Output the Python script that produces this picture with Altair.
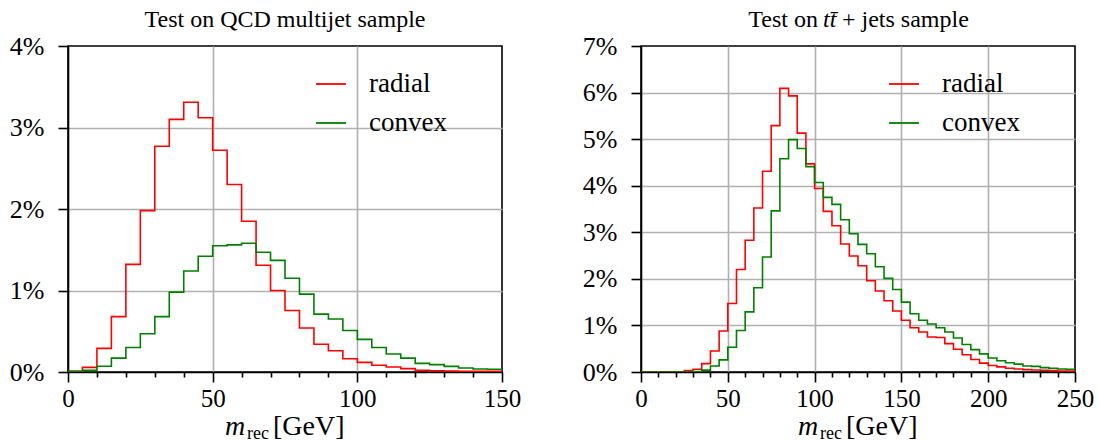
import altair as alt
import pandas as pd

BIN = 5
# left panel (QCD multijet), bins of 5 GeV from 0 to 150, values in %
qcd_radial = [0.01, 0.057, 0.29, 0.68, 1.32, 1.98, 2.77, 3.10, 3.31, 3.12,
              2.72, 2.30, 1.85, 1.31, 1.00, 0.755, 0.54, 0.34, 0.26, 0.163,
              0.118, 0.082, 0.061, 0.041, 0.02, 0.016, 0.012, 0.01, 0.008, 0.008]
qcd_convex = [0.01, 0.02, 0.07, 0.17, 0.30, 0.47, 0.68, 0.98, 1.24, 1.42,
              1.55, 1.56, 1.58, 1.47, 1.37, 1.15, 0.955, 0.71, 0.65, 0.51,
              0.40, 0.30, 0.22, 0.17, 0.106, 0.09, 0.069, 0.049, 0.037, 0.033]
# right panel (ttbar + jets), bins of 5 GeV from 0 to 250, values in %
tt_radial = [0, 0, 0, 0, 0, 0.03, 0.06, 0.18, 0.45, 0.88,
             1.47, 2.20, 2.83, 3.52, 4.31, 5.29, 6.09, 5.93, 5.13, 4.47,
             3.94, 3.45, 3.14, 2.75, 2.49, 2.28, 1.96, 1.74, 1.53, 1.31,
             1.11, 0.95, 0.86, 0.75, 0.74, 0.61, 0.49, 0.37, 0.27, 0.19,
             0.14, 0.11, 0.08, 0.066, 0.05, 0.044, 0.037, 0.03, 0.022, 0.02]
tt_convex = [0, 0, 0, 0, 0, 0, 0.01, 0.04, 0.13, 0.26,
             0.53, 0.89, 1.29, 1.81, 2.47, 3.46, 4.58, 4.99, 4.80, 4.41,
             4.07, 3.75, 3.60, 3.27, 2.97, 2.74, 2.54, 2.26, 2.01, 1.77,
             1.50, 1.25, 1.11, 1.03, 0.95, 0.86, 0.73, 0.59, 0.48, 0.39,
             0.30, 0.24, 0.20, 0.17, 0.13, 0.12, 0.095, 0.08, 0.066, 0.06]

series_names = ["radial", "convex"]
series_colors = ["#ff0000", "#008000"]

FONT = "Liberation Serif"
W, H = 434, 326


def step_frame(vals_by_series):
    rows = []
    for name, vals in vals_by_series.items():
        for i, v in enumerate(vals):
            rows.append({"x": i * BIN, "y": v, "s": name})
        rows.append({"x": len(vals) * BIN, "y": vals[-1], "s": name})
    return pd.DataFrame(rows)


def text_layer(txt, x, y, size, italic=False, align="left"):
    return alt.Chart(pd.DataFrame({"t": [txt]})).mark_text(
        font=FONT, fontSize=size, fontStyle="italic" if italic else "normal",
        align=align, baseline="alphabetic", color="black"
    ).encode(x=alt.value(x), y=alt.value(y), text="t:N")


def panel(df, xmax, ymax, title_layers):
    xs = list(range(0, xmax + 1, 10))
    ys = list(range(0, ymax + 1))
    line = alt.Chart(df).mark_line(interpolate="step-after", strokeWidth=1.6, clip=True).encode(
        x=alt.X("x:Q", scale=alt.Scale(domain=[0, xmax], nice=False, zero=False),
                axis=alt.Axis(
                    values=xs, title=None, labelPadding=4, labelFontSize=25,
                    labelExpr="datum.value % 50 === 0 ? datum.label : ''",
                    tickSize={"condition": {"test": "datum.value % 50 === 0", "value": 10}, "value": 5},
                    gridOpacity={"condition": {"test": f"datum.value % 50 === 0 && datum.value > 0 && datum.value < {xmax}", "value": 1}, "value": 0},
                    labelFlush=False, labelOverlap=False, labelBound=False, format="d")),
        y=alt.Y("y:Q", scale=alt.Scale(domain=[0, ymax], nice=False),
                axis=alt.Axis(
                    values=ys, title=None, labelExpr="datum.value + '%'", tickSize=10,
                    labelPadding=14,
                    gridOpacity={"condition": {"test": f"datum.value > 0 && datum.value < {ymax}", "value": 1}, "value": 0})),
        color=alt.Color("s:N", scale=alt.Scale(domain=series_names, range=series_colors),
                        sort=series_names,
                        legend=alt.Legend(title=None, orient="none", legendX=247, legendY=22,
                                          symbolType="stroke", symbolSize=900, symbolStrokeWidth=1.8,
                                          labelFontSize=27, labelFont=FONT, labelOffset=22,
                                          rowPadding=10, padding=0)),
        order=alt.Order("x:Q"),
    )
    cx = W / 2
    xtitle = [
        text_layer("m", cx - 60, H + 63, 28, italic=True),
        text_layer("rec", cx - 38, H + 67, 18),
        text_layer("[GeV]", cx - 12, H + 63, 28),
    ]
    return alt.layer(line, *title_layers, *xtitle).properties(width=W, height=H)


left = panel(step_frame({"radial": qcd_radial, "convex": qcd_convex}), 150, 4,
             [text_layer("Test on QCD multijet sample", W / 2, -19, 24, align="center")])
right = panel(step_frame({"radial": tt_radial, "convex": tt_convex}), 250, 7,
              [text_layer("Test on", W / 2 - 40, -19, 24, align="right"),
               text_layer("tt\u0304", W / 2 - 35, -19, 24, italic=True),
               text_layer("+ jets sample", W / 2 - 16, -19, 24)])

chart = alt.hconcat(left, right, spacing=59).resolve_legend(color="independent").configure(
    font=FONT,
    padding={"left": 8, "top": 7, "right": 4, "bottom": 0},
).configure_view(
    stroke="black", strokeWidth=1.6,
).configure_axis(
    labelFont=FONT, labelFontSize=26, labelColor="black",
    domainColor="black", domainWidth=1.6, tickColor="black", tickWidth=1.6,
    gridColor="#b0b0b0", gridWidth=1.6,
)

chart.save("out.html", embed_options={"renderer": "svg", "actions": False})
